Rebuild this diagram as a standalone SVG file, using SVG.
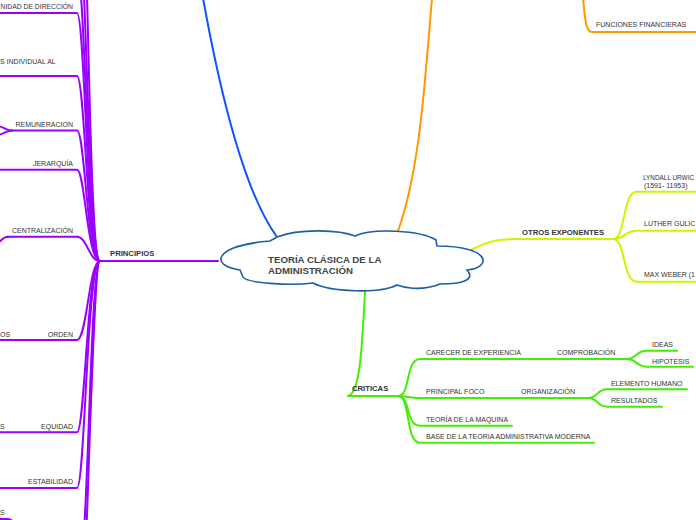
<svg xmlns="http://www.w3.org/2000/svg" width="696" height="520" viewBox="0 0 696 520">
<style>
.t{font-family:"Liberation Sans",Arial,sans-serif;font-size:7px;fill:#333}
.b{font-family:"Liberation Sans",Arial,sans-serif;font-size:7.7px;font-weight:bold;fill:#333}
.e{text-anchor:end}
.c{fill:none;stroke-linecap:round;stroke-linejoin:round}
.p{stroke:#9900ff;stroke-width:2}
.g{stroke:#44ee00;stroke-width:2}
.y{stroke:#ccf500;stroke-width:2}
.o{stroke:#ff9900;stroke-width:2}
.bl{stroke:#0a55ff;stroke-width:2}
</style>
<rect width="696" height="520" fill="#fff"/>
<g id="connectors">
  <path class="c bl" d="M277,237 C250,200 225,120 203,-2"/>
  <path class="c o" d="M398,231 C420,170 425,80 432,-2"/>
  <path class="c o" d="M583,-2 C585,20 586,32 592,32 L698,32"/>
  <path class="c p" d="M218,261 L100,261"/>
  <path class="c p" d="M100,261 C88,261 88,-150 80,-150"/>
  <path class="c p" d="M100,261 C88,261 86,-80 78,-80"/>
  <path class="c p" d="M100,261 C88,261 85,-30 77,-30"/>
  <path class="c p" d="M100,261 C87,261 85,13 77,13 L-2,13"/>
  <path class="c p" d="M100,261 C87,261 85,76 77,76 L-2,76"/>
  <path class="c p" d="M100,261 C87,261 85,130.5 77,130.5 L12,130.5"/>
  <path class="c p" d="M12,130.5 C6,130.5 5,127 -2,126"/>
  <path class="c p" d="M12,130.5 C6,130.5 5,134 -2,135"/>
  <path class="c p" d="M100,261 C87,261 85,169.7 77,169.7 L-2,169.7"/>
  <path class="c p" d="M100,261 C89,261 87,236.7 77,236.7 L8,236.7"/>
  <path class="c p" d="M8,236.7 C3,236.7 2,240 -2,243"/>
  <path class="c p" d="M100,261 C89,261 87,340 77,340 L-2,340"/>
  <path class="c p" d="M100,261 C87,261 85,432.3 77,432.3 L-2,432.3"/>
  <path class="c p" d="M100,261 C87,261 85,488 77,488 L-2,488"/>
  <path class="c p" d="M100,261 C90,261 88,560 80,560"/>
  <path class="c p" d="M100,261 C92,261 86,640 80,640"/>
  <path class="c p" d="M-2,519 L8,519 C12,519 13,522 14,526"/>
  <path class="c y" d="M471,250 C490,240 500,239 520,239 L613,239"/>
  <path class="c y" d="M613,239 C626,239 622,191.7 637,191.7 L698,191.7"/>
  <path class="c y" d="M613,239 C626,239 624,230.7 637,230.7 L698,230.7"/>
  <path class="c y" d="M613,239 C626,239 622,281.7 637,281.7 L698,281.7"/>
  <path class="c g" d="M365,291 C362,350 360,393 348,396 L398,396"/>
  <path class="c g" d="M398,396 C411,396 405,359 420,359 L627,359"/>
  <path class="c g" d="M627,359 C637,359 636,350.7 646,350.7 L677,350.7"/>
  <path class="c g" d="M627,359 C637,359 636,366.7 646,366.7 L693,366.7"/>
  <path class="c g" d="M398,396 C408,396 408,398 420,398 L588,398"/>
  <path class="c g" d="M588,398 C598,398 597,389.3 607,389.3 L687,389.3"/>
  <path class="c g" d="M588,398 C598,398 597,406.7 607,406.7 L662,406.7"/>
  <path class="c g" d="M398,396 C411,396 405,425.7 420,425.7 L512,425.7"/>
  <path class="c g" d="M398,396 C411,396 405,442.7 420,442.7 L594,442.7"/>
</g>
<g id="central">
  <path d="M240,270 C210,266 212,246 270,241 L277,237 C300,228 340,230 355,236 C372,228 420,230 436,240 L437,246 C492,246 492,268 467,270 C476,280 462,284 440,284 C420,292 402,287 397,285 C380,294 330,292 313,283 C290,286 246,283 243,277 Z" fill="#fff" stroke="#1a5fa8" stroke-width="1.6"/>
  <text x="268" y="262.5" style="font-family:'Liberation Sans',Arial,sans-serif;font-size:9.7px;font-weight:bold;fill:#444">TEORÍA CLÁSICA DE LA</text>
  <text x="268" y="274" style="font-family:'Liberation Sans',Arial,sans-serif;font-size:9.7px;font-weight:bold;fill:#444">ADMINISTRACIÓN</text>
</g>
<g id="funciones-financieras"><text class="t" x="596" y="27.3">FUNCIONES FINANCIERAS</text></g>
<g id="principios"><text class="b" x="110" y="256">PRINCIPIOS</text></g>
<g id="unidad-direccion"><text class="t" x="0.5" y="9" textLength="72.5" lengthAdjust="spacingAndGlyphs">NIDAD DE DIRECCIÓN</text></g>
<g id="interes-individual"><text class="t" x="0" y="64">S INDIVIDUAL AL</text></g>
<g id="remuneracion"><text class="t e" x="73" y="127">REMUNERACION</text></g>
<g id="jerarquia"><text class="t e" x="73" y="165.7">JERARQUÍA</text></g>
<g id="centralizacion"><text class="t e" x="73" y="232.7">CENTRALIZACIÓN</text></g>
<g id="orden"><text class="t e" x="73" y="336.7">ORDEN</text></g>
<g id="orden-hijo"><text class="t" x="0" y="336.7">OS</text></g>
<g id="equidad"><text class="t e" x="73" y="428.7">EQUIDAD</text></g>
<g id="equidad-hijo"><text class="t" x="0" y="428.7">S</text></g>
<g id="estabilidad"><text class="t e" x="73" y="484.3">ESTABILIDAD</text></g>
<g id="bottom-hijo"><text class="t" x="0" y="515">S</text></g>
<g id="otros-exponentes"><text class="b" x="522" y="234.7">OTROS EXPONENTES</text></g>
<g id="lyndall"><text class="t" x="643" y="180" style="font-size:6.4px">LYNDALL URWIC</text><text class="t" x="644" y="187.5">(1591- 11953)</text></g>
<g id="luther"><text class="t" x="644" y="226">LUTHER GULIC</text></g>
<g id="weber"><text class="t" x="644" y="277.3">MAX WEBER (1</text></g>
<g id="criticas"><text class="b" x="352" y="391">CRITICAS</text></g>
<g id="carecer"><text class="t" x="426" y="355">CARECER DE EXPERIENCIA</text></g>
<g id="comprobacion"><text class="t" x="557" y="355">COMPROBACIÓN</text></g>
<g id="ideas"><text class="t" x="652" y="347">IDEAS</text></g>
<g id="hipotesis"><text class="t" x="652" y="364">HIPOTESIS</text></g>
<g id="principal-foco"><text class="t" x="426" y="393.5">PRINCIPAL FOCO</text></g>
<g id="organizacion"><text class="t" x="521" y="393.5">ORGANIZACIÓN</text></g>
<g id="elemento-humano"><text class="t" x="611" y="385.5">ELEMENTO HUMANO</text></g>
<g id="resultados"><text class="t" x="611" y="403">RESULTADOS</text></g>
<g id="teoria-maquina"><text class="t" x="426" y="421.5">TEORÍA DE LA MAQUINA</text></g>
<g id="base-teoria"><text class="t" x="426" y="439">BASE DE LA TEORIA ADMINISTRATIVA MODERNA</text></g>
</svg>
